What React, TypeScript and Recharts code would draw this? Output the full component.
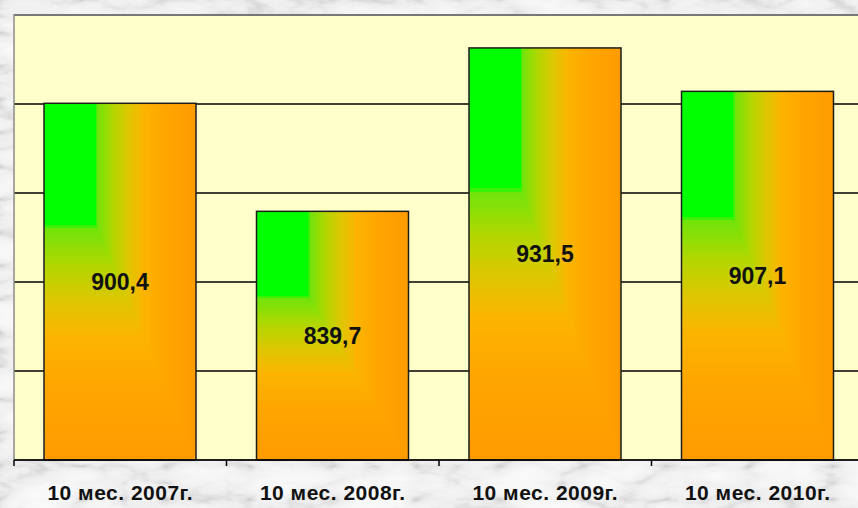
import React from "react";
import { BarChart, Bar, XAxis, YAxis, CartesianGrid, ReferenceArea, LabelList } from "recharts";

const periods = ["10 мес. 2007г.", "10 мес. 2008г.", "10 мес. 2009г.", "10 мес. 2010г."];
const values = [900.4, 839.7, 931.5, 907.1];
const yTicks = [700, 750, 800, 850, 900, 950];

const data = periods.map((period, i) => ({ period, value: values[i] }));

// corner gradient: green in the top-left, orange toward the bottom and right
const ramp: [number, number[]][] = [
  [0.34, [0, 255, 0]],
  [0.36, [115, 228, 10]],
  [0.46, [178, 215, 0]],
  [0.56, [222, 199, 0]],
  [0.66, [252, 180, 0]],
  [0.8, [255, 166, 0]],
  [1, [255, 155, 0]],
];

function rampColor(t: number) {
  if (t <= ramp[0][0]) return `rgb(${ramp[0][1].join(",")})`;
  for (let i = 1; i < ramp.length; i++) {
    const [t1, c1] = ramp[i];
    const [t0, c0] = ramp[i - 1];
    if (t <= t1) {
      const k = (t - t0) / (t1 - t0);
      const c = c0.map((v, j) => Math.round(v + (c1[j] - v) * k));
      return `rgb(${c.join(",")})`;
    }
  }
  return `rgb(${ramp[ramp.length - 1][1].join(",")})`;
}

function CornerBar(props: any) {
  const { x, y, width, height } = props;
  if (!width || !height) return null;
  const rects = [];
  for (let i = 100; i >= 34; i--) {
    const t = i / 100;
    rects.push(
      <rect key={i} x={x} y={y} width={width * t} height={height * t} fill={rampColor(t)} shapeRendering="crispEdges" />
    );
  }
  return (
    <g>
      {rects}
      <rect x={x} y={y} width={width} height={height} fill="none" stroke="#1c1c1c" strokeWidth={1.5} />
    </g>
  );
}

const TICK_SIZE = 6;
const TICK_MARGIN = 19;

// category label plus a tick mark on the left boundary of its band
function PeriodTick(props: any) {
  const { x, y, payload } = props;
  const edge = x - (payload?.offset ?? 0);
  const top = y - TICK_MARGIN - TICK_SIZE;
  return (
    <g>
      <line x1={edge} x2={edge} y1={top} y2={top + TICK_SIZE} stroke="#000" strokeWidth={1.5} />
      <text
        x={x}
        y={y}
        dy="0.71em"
        textAnchor="middle"
        fill="#111"
        fontSize={21}
        fontWeight="bold"
        letterSpacing={0.5}
      >
        {payload.value}
      </text>
    </g>
  );
}

function Marble() {
  return (
    <svg width={858} height={508} style={{ position: "absolute", left: 0, top: 0 }}>
      <defs>
        <filter id="marble" x="0" y="0" width="100%" height="100%">
          <feTurbulence type="turbulence" baseFrequency="0.012 0.03" numOctaves={5} seed={11} />
          <feColorMatrix type="saturate" values="0" />
          <feComponentTransfer>
            <feFuncR type="table" tableValues="0.6 0.86 0.94 0.96 0.96" />
            <feFuncG type="table" tableValues="0.6 0.86 0.94 0.96 0.96" />
            <feFuncB type="table" tableValues="0.6 0.86 0.94 0.96 0.96" />
            <feFuncA type="table" tableValues="1 1" />
          </feComponentTransfer>
        </filter>
      </defs>
      <rect width={858} height={508} fill="#e2e2e2" />
      <rect width={858} height={508} filter="url(#marble)" />
    </svg>
  );
}

export default function App() {
  return (
    <div
      style={{
        position: "absolute",
        left: 0,
        top: 0,
        width: 858,
        height: 508,
        overflow: "hidden",
        fontFamily: "'Liberation Sans', Arial, sans-serif",
      }}
    >
      <Marble />
      <div style={{ position: "absolute", left: 0, top: 0 }}>
        <BarChart width={870} height={508} data={data} margin={{ top: 15, right: 6, bottom: 0, left: 14 }}>
          <CartesianGrid vertical={false} stroke="#000" strokeWidth={1.5} fill="#ffffcc" fillOpacity={1} />
          <ReferenceArea y1={700} y2={950} fill="none" stroke="#8a8a8a" strokeWidth={1.5} />
          <YAxis hide domain={[700, 950]} ticks={yTicks} />
          <XAxis
            dataKey="period"
            height={48}
            tickLine={false}
            tickSize={TICK_SIZE}
            tickMargin={TICK_MARGIN}
            axisLine={{ stroke: "#000", strokeWidth: 1.5 }}
            tick={<PeriodTick />}
            interval={0}
          />
          <Bar dataKey="value" barSize={152} shape={CornerBar} isAnimationActive={false}>
            <LabelList
              dataKey="value"
              position="center"
              formatter={(v: any) => Number(v).toFixed(1).replace(".", ",")}
              style={{ fill: "#111", fontSize: 23, fontWeight: "bold" }}
            />
          </Bar>
        </BarChart>
      </div>
    </div>
  );
}
